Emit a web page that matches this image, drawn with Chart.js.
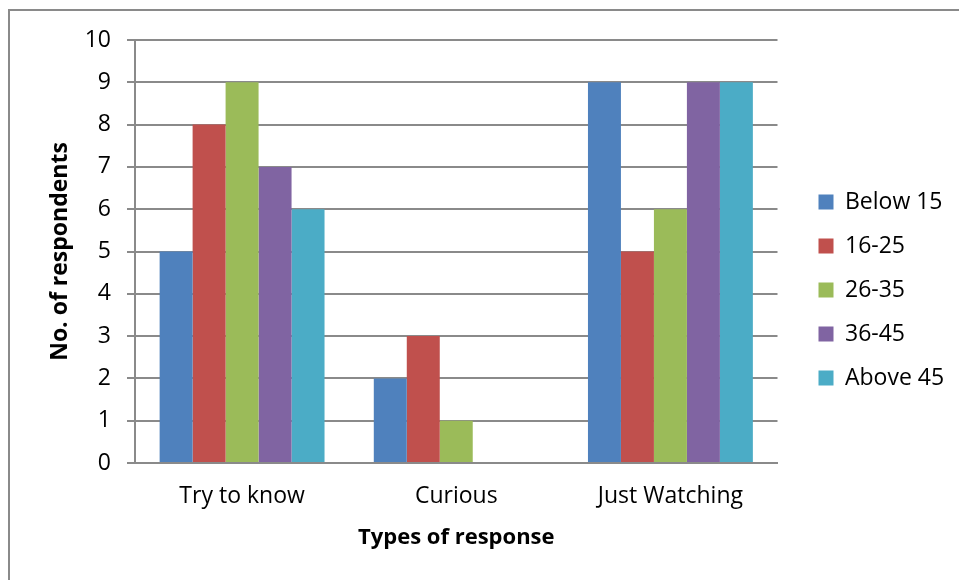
<!DOCTYPE html>
<html>
<head>
<meta charset="utf-8">
<script src="https://cdn.jsdelivr.net/npm/chart.js@4/dist/chart.umd.min.js"></script>
<style>
  html, body { margin: 0; padding: 0; background: #fff; }
  #wrap { width: 959px; height: 580px; position: relative; }
</style>
</head>
<body>
<div id="wrap"><canvas id="c" width="959" height="580"></canvas></div>
<script>
// Response types and respondent counts per age group
const categories = ['Try to know', 'Curious', 'Just Watching'];
const seriesNames = ['Below 15', '16-25', '26-35', '36-45', 'Above 45'];
const below15 = [5, 2, 9];
const age16to25 = [8, 3, 5];
const age26to35 = [9, 1, 6];
const age36to45 = [7, 0, 9];
const above45 = [6, 0, 9];
const yTicks = [0, 1, 2, 3, 4, 5, 6, 7, 8, 9, 10];

const seriesValues = [below15, age16to25, age26to35, age36to45, above45];
const colors = ['#4F81BD', '#C0504D', '#9BBB59', '#8064A2', '#4BACC6'];

const FONT = '"Open Sans", Lato, sans-serif';
const GRID = '#8A8A8A';

// Thin outer frame along the top and left edges
const framePlugin = {
  id: 'frame',
  beforeDraw(chart) {
    const ctx = chart.ctx;
    ctx.save();
    ctx.strokeStyle = '#8A8A8A';
    ctx.lineWidth = 2;
    ctx.beginPath();
    ctx.moveTo(9, 580);
    ctx.lineTo(9, 10);
    ctx.lineTo(959, 10);
    ctx.stroke();
    ctx.restore();
  }
};

new Chart(document.getElementById('c'), {
  type: 'bar',
  data: {
    labels: categories,
    datasets: seriesNames.map((name, i) => ({
      label: name,
      data: seriesValues[i],
      backgroundColor: colors[i],
      borderWidth: 0,
      categoryPercentage: 0.77,
      barPercentage: 1.0
    }))
  },
  options: {
    responsive: false,
    animation: false,
    devicePixelRatio: 1,
    layout: { padding: { top: 40, left: 20, right: 6, bottom: 40 } },
    plugins: {
      legend: {
        position: 'right',
        labels: {
          boxWidth: 15,
          boxHeight: 15,
          padding: 21,
          color: '#000',
          font: { family: FONT, size: 23 }
        }
      },
      tooltip: { enabled: false }
    },
    scales: {
      x: {
        grid: { display: false, drawTicks: false },
        border: { display: true, color: GRID, width: 2 },
        ticks: { color: '#000', padding: 20, font: { family: FONT, size: 23 } },
        title: {
          display: true,
          text: 'Types of response',
          color: '#000',
          font: { family: FONT, size: 22, weight: 'bold' },
          padding: { top: 0, bottom: -11 }
        },
        afterFit(scale) { scale.height = 77; }
      },
      y: {
        min: 0,
        max: 10,
        afterBuildTicks(scale) { scale.ticks = yTicks.map(v => ({ value: v })); },
        grid: { color: GRID, lineWidth: 2, drawTicks: true, tickLength: 8 },
        border: { display: true, color: GRID, width: 2 },
        ticks: { color: '#000', padding: 16, font: { family: FONT, size: 23 } },
        title: {
          display: true,
          text: 'No. of respondents',
          color: '#000',
          font: { family: FONT, size: 23, weight: 'bold' },
          padding: { top: 27, bottom: 0 }
        },
        afterFit(scale) { scale.width = 115; }
      },
      // empty spacer between the plot and the legend
      gap: {
        type: 'linear',
        position: 'right',
        display: true,
        grid: { display: false, drawTicks: false },
        border: { display: false },
        ticks: { display: false },
        afterFit(scale) { scale.width = 20; }
      }
    }
  },
  plugins: [framePlugin]
});
</script>
</body>
</html>
